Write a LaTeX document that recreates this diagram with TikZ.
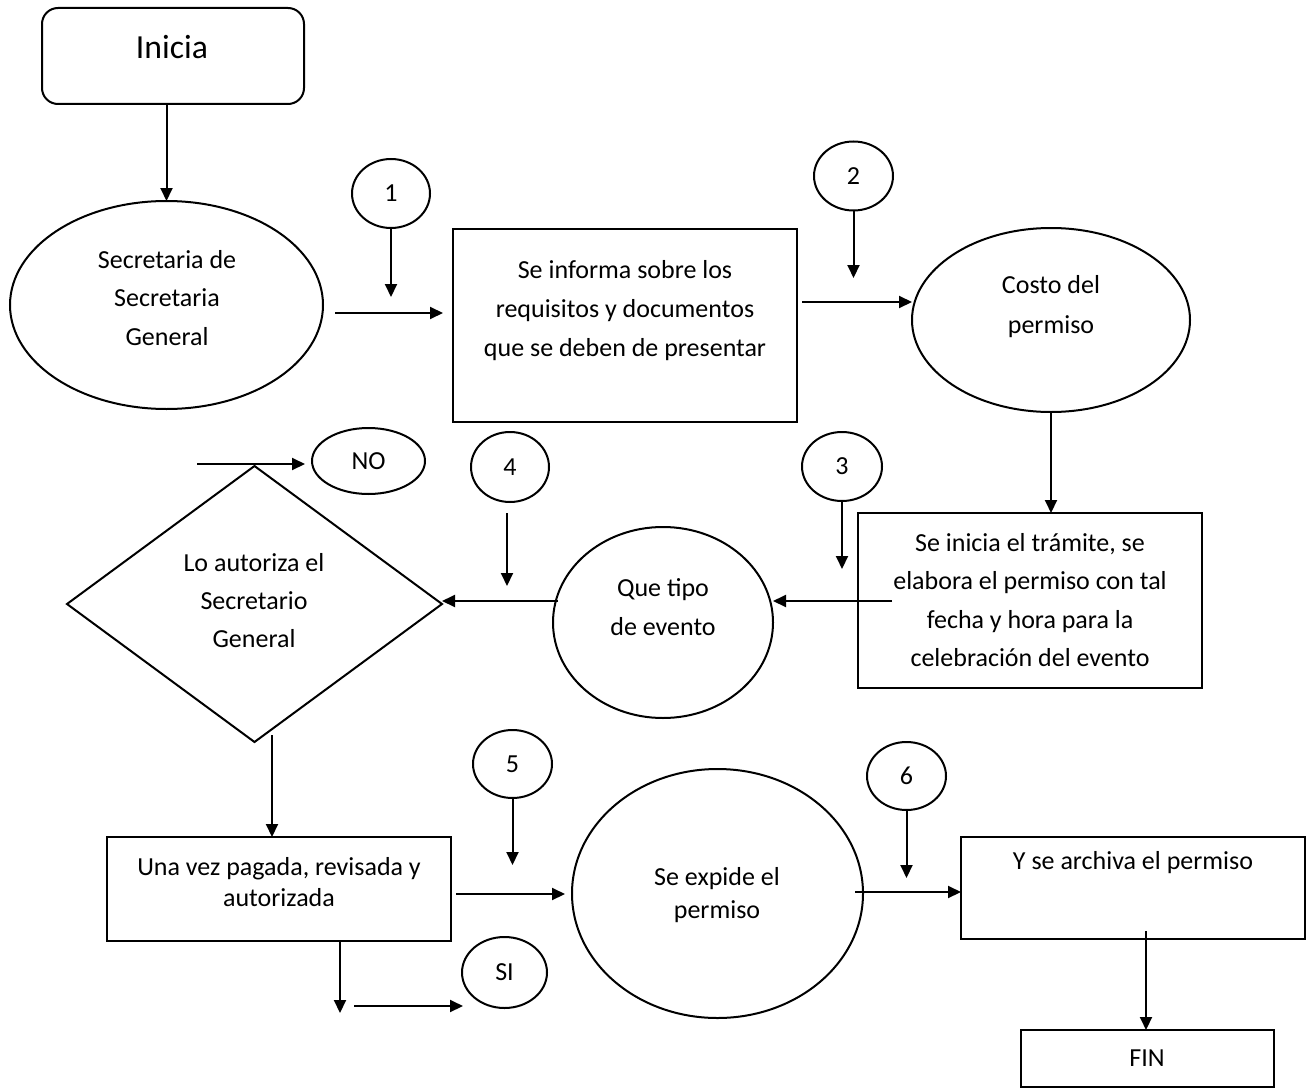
\documentclass[tikz,border=0pt]{standalone}
\usepackage{fontspec}
\setmainfont{Carlito}
\usetikzlibrary{shapes.geometric,arrows.meta}

\tikzset{
  shp/.style={draw, line width=2pt, inner sep=0pt, outer sep=0pt},
  boxnode/.style={shp, rectangle, minimum width=#1},
  oval/.style={shp, ellipse},
  txt/.style={align=center, inner sep=0pt, font=\fontsize{26}{39}\selectfont},
  arr/.style={line width=2pt, -{Triangle[length=13pt,width=12pt]}},
}

\begin{document}
\begin{tikzpicture}[x=1pt, y=-1pt]
\useasboundingbox (0,0) rectangle (1306,1089);

% ---- shapes ----
\node[shp, rectangle, rounded corners=16pt, minimum width=262pt, minimum height=96pt] (inicia) at (173,56) {};
\node[oval, minimum width=313pt, minimum height=208pt] (secgen) at (166.5,305) {};
\node[oval, minimum width=78pt, minimum height=69pt] (c1) at (391,193.5) {};
\node[boxnode=344pt, minimum height=193pt] (informa) at (625,325.5) {};
\node[oval, minimum width=79pt, minimum height=69pt] (c2) at (853.5,176) {};
\node[oval, minimum width=278pt, minimum height=184pt] (costo) at (1051,320) {};
\node[boxnode=344pt, minimum height=175pt] (tramite) at (1030,600.5) {};
\node[oval, minimum width=80pt, minimum height=69pt] (c3) at (842,466.5) {};
\node[oval, minimum width=220pt, minimum height=191pt] (tipo) at (663,622.5) {};
\node[oval, minimum width=78pt, minimum height=70pt] (c4) at (510,467) {};
\node[shp, diamond, minimum width=375pt, minimum height=276pt] (dia) at (254.5,604) {};
\node[oval, minimum width=113pt, minimum height=66pt] (no) at (368.5,461) {};
\node[boxnode=344pt, minimum height=104pt] (unavez) at (279,889) {};
\node[oval, minimum width=85pt, minimum height=71pt] (si) at (504.5,972.5) {};
\node[oval, minimum width=79pt, minimum height=68pt] (c5) at (512.5,764) {};
\node[oval, minimum width=291pt, minimum height=249pt] (expide) at (717.5,893.5) {};
\node[oval, minimum width=79pt, minimum height=68pt] (c6) at (906.5,776) {};
\node[boxnode=344pt, minimum height=102pt] (archiva) at (1133,888) {};
\node[boxnode=253pt, minimum height=57pt] (fin) at (1147.5,1058.5) {};

% ---- texts ----
\node[txt, font=\fontsize{33.7}{40}\selectfont] (tinicia) at (172,47) {Inicia};
\node[txt, font=\fontsize{26}{38.5}\selectfont] (tsecgen) at (167,298) {Secretaria de\\Secretaria\\General};
\node[txt] (tinforma) at (625,311) {Se informa sobre los\\requisitos y documentos\\que se deben de presentar};
\node[txt, font=\fontsize{26}{40}\selectfont] (tcosto) at (1051,307) {Costo del\\permiso};
\node[txt, font=\fontsize{26}{38.5}\selectfont] (ttramite) at (1030,600) {Se inicia el trámite, se\\elabora el permiso con tal\\fecha y hora para la\\celebración del evento};
\node[txt] (ttipo) at (663,607) {Que tipo\\de evento};
\node[txt, font=\fontsize{26}{38}\selectfont] (tdia) at (254,601) {Lo autoriza el\\Secretario\\General};
\node[txt, font=\fontsize{26}{31.5}\selectfont] (tunavez) at (279,882) {Una vez pagada, revisada y\\autorizada};
\node[txt, font=\fontsize{26}{33}\selectfont] (texpide) at (717,895) {Se expide el\\permiso};
\node[txt] (tarchiva) at (1133,863) {Y se archiva el permiso};
\node[txt] (tfin) at (1147,1058) {FIN};
\node[txt] at (c1) {1};
\node[txt] at (c2) {2};
\node[txt] at (c3) {3};
\node[txt] at (c4) {4};
\node[txt] at (c5) {5};
\node[txt] at (c6) {6};
\node[txt] at (no) {NO};
\node[txt] at (si) {SI};

% ---- free ends of the connectors ----
\coordinate (c1end) at (391,297);
\coordinate (h1s) at (335,313);
\coordinate (h1e) at (443,313);
\coordinate (c2end) at (853.5,278);
\coordinate (h2s) at (802,302);
\coordinate (c3end) at (842,569);
\coordinate (h3s) at (892,601);
\coordinate (h4s) at (558,601);
\coordinate (c4s) at (507,513);
\coordinate (c4e) at (507,586);
\coordinate (hnos) at (197,464);
\coordinate (hnoe) at (305,464);
\coordinate (d2s) at (272,735);
\coordinate (c5end) at (512.5,865);
\coordinate (h5s) at (456,894);
\coordinate (h5e) at (565,894);
\coordinate (v6s) at (340,941);
\coordinate (v6e) at (340,1013);
\coordinate (hsis) at (354,1006);
\coordinate (hsie) at (463,1006);
\coordinate (c6end) at (906.5,878);
\coordinate (h6s) at (855,892);
\coordinate (v7s) at (1146,931);

% ---- connectors ----
\draw[arr] (inicia.south -| secgen.north) -- (secgen.north);
\draw[arr] (c1) -- (c1end);
\draw[arr] (h1s) -- (h1e);
\draw[arr] (c2) -- (c2end);
\draw[arr] (h2s) -- (h2s -| costo.west);
\draw[arr] (costo.south) -- (costo.south |- tramite.north);
\draw[arr] (c3) -- (c3end);
\draw[arr] (h3s) -- (h3s -| tipo.east);
\draw[arr] (h4s) -- (h4s -| dia.east);
\draw[arr] (c4s) -- (c4e);
\draw[arr] (hnos) -- (hnoe);
\draw[arr] (d2s) -- (d2s |- unavez.north);
\draw[arr] (c5) -- (c5end);
\draw[arr] (h5s) -- (h5e);
\draw[arr] (v6s) -- (v6e);
\draw[arr] (hsis) -- (hsie);
\draw[arr] (c6) -- (c6end);
\draw[arr] (h6s) -- (h6s -| archiva.west);
\draw[arr] (v7s) -- (v7s |- fin.north);
\end{tikzpicture}
\end{document}
